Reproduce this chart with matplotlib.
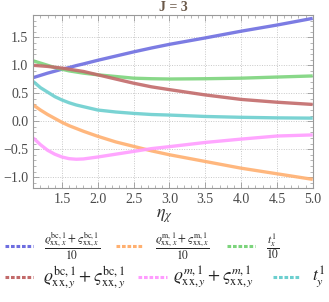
import matplotlib
matplotlib.use("Agg")
import matplotlib.pyplot as plt
from matplotlib.lines import Line2D
from matplotlib.ticker import MultipleLocator

plt.rcParams["mathtext.fontset"] = "stix"
plt.rcParams["font.family"] = ["Liberation Serif", "DejaVu Serif"]

# eta_chi sample points
eta = [1.1, 1.2, 1.3, 1.4, 1.5, 1.6, 1.7, 1.8, 2.0, 2.25, 2.5, 2.75, 3.0, 3.5, 4.0, 4.5, 5.0]

blue = [0.78, 0.82, 0.86, 0.895, 0.93, 0.96, 0.995, 1.025, 1.09, 1.165, 1.24, 1.31, 1.375, 1.49, 1.61, 1.72, 1.84]
orange = [0.29, 0.2, 0.12, 0.05, -0.02, -0.08, -0.13, -0.18, -0.27, -0.37, -0.45, -0.53, -0.6, -0.72, -0.84, -0.94, -1.04]
green = [1.08, 1.04, 1.0, 0.96, 0.93, 0.9, 0.88, 0.86, 0.83, 0.8, 0.77, 0.76, 0.755, 0.76, 0.77, 0.79, 0.81]
red = [1.0, 0.99, 0.98, 0.965, 0.95, 0.93, 0.91, 0.89, 0.83, 0.755, 0.68, 0.615, 0.565, 0.47, 0.39, 0.34, 0.30]
pink = [-0.30, -0.42, -0.52, -0.59, -0.64, -0.67, -0.68, -0.675, -0.64, -0.59, -0.54, -0.49, -0.455, -0.38, -0.32, -0.265, -0.245]
cyan = [0.71, 0.6, 0.52, 0.44, 0.38, 0.33, 0.29, 0.26, 0.2, 0.165, 0.14, 0.12, 0.11, 0.085, 0.07, 0.06, 0.055]

series = [blue, orange, green, red, pink, cyan]
colors = ["#6e6ee0", "#ffb070", "#7cd47c", "#c26a6a", "#ff9cff", "#6ccfcf"]
labels = [
    r"$\dfrac{\varrho^{\mathrm{bc},1}_{\mathrm{xx},x}+\varsigma^{\mathrm{bc},1}_{\mathrm{xx},x}}{10}$",
    r"$\dfrac{\varrho^{\mathrm{m},1}_{\mathrm{xx},x}+\varsigma^{\mathrm{m},1}_{\mathrm{xx},x}}{10}$",
    r"$\dfrac{t^{1}_{x}}{10}$",
    r"$\varrho^{\mathrm{bc},1}_{\mathrm{xx},y}+\varsigma^{\mathrm{bc},1}_{\mathrm{xx},y}$",
    r"$\varrho^{m,1}_{\mathrm{xx},y}+\varsigma^{m,1}_{\mathrm{xx},y}$",
    r"$t^{1}_{y}$",
]

W, H = 329, 302
fig = plt.figure(figsize=(W / 100, H / 100), dpi=100)
ax = fig.add_axes([33.3 / W, 1 - 188.3 / H, (312.7 - 33.3) / W, (188.3 - 15) / H])

for ys, c in zip(series, colors):
    ax.plot(eta, ys, color=c, lw=2.4, alpha=0.9, solid_capstyle="butt")

ax.set_xlim(1.1, 5.0)
ax.set_ylim(-1.2, 1.9)
ax.xaxis.set_minor_locator(MultipleLocator(0.1))
ax.yaxis.set_minor_locator(MultipleLocator(0.1))
ax.grid(True, which="major", color="#c8c8c8", linestyle=(0, (1, 1.5)), lw=0.7)
ax.tick_params(which="both", direction="in", top=True, right=True, colors="#999999",
               labelcolor="#4a4a4a", labelsize=10)
ax.tick_params(which="major", length=4, width=0.6)
ax.tick_params(which="minor", length=2, width=0.5)
ax.set_xticks([1.5, 2.0, 2.5, 3.0, 3.5, 4.0, 4.5, 5.0])
ax.set_xticklabels(["1.5", "2.0", "2.5", "3.0", "3.5", "4.0", "4.5", "5.0"])
ax.set_yticks([-1.0, -0.5, 0.0, 0.5, 1.0, 1.5])
ax.set_yticklabels(["\u22121.0", "\u22120.5", "0.0", "0.5", "1.0", "1.5"])
for s in ax.spines.values():
    s.set_color("#999999")
    s.set_linewidth(0.8)

ax.set_title("J = 3", color="#6a5848", fontsize=10, fontweight="bold", pad=3)
fig.text(0.5, 1 - 216 / H, r"$\boldsymbol{\eta_\chi}$", ha="center", va="center",
         fontsize=13, color="#333333")

# legend: two rows of three, drawn by hand to follow the reference layout
handle_x = [(5, 33), (116, 143), (227, 255), (5, 33), (138, 167), (273, 300)]
label_x = [44, 155, 266, 43, 173, 312]
row_y = [246, 246, 246, 277, 277, 277]
label_size = [8.3, 8.3, 8.3, 12.5, 12.5, 12.5]
for (x0, x1), lx, ry, c, lab, fs in zip(handle_x, label_x, row_y, colors, labels, label_size):
    fig.add_artist(Line2D([x0 / W, x1 / W], [1 - ry / H, 1 - ry / H], color=c, lw=2.2,
                          linestyle=(0, (1.2, 0.6)), transform=fig.transFigure))
    fig.text(lx / W, 1 - ry / H, lab, ha="left", va="center", fontsize=fs, color="#222222")

fig.savefig("out.png", dpi=100)
